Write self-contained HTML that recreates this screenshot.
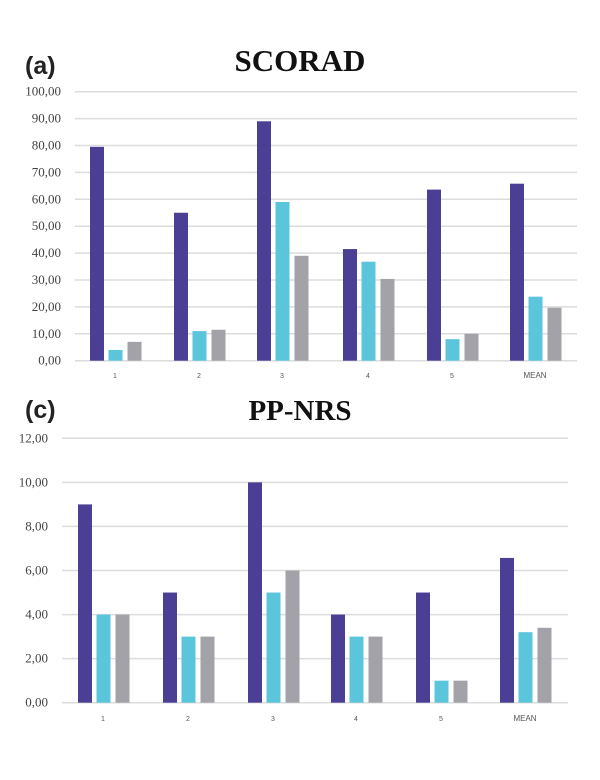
<!DOCTYPE html>
<html><head><meta charset="utf-8"><style>html,body{margin:0;padding:0;background:#fff}svg{display:block}</style></head>
<body>
<svg width="600" height="780" viewBox="0 0 600 780" xmlns="http://www.w3.org/2000/svg">
<rect width="600" height="780" fill="#fff"/>
<text x="25" y="74" font-family="Liberation Sans, sans-serif" font-weight="bold" font-size="25" fill="#222">(a)</text>
<text x="300" y="71" text-anchor="middle" font-family="Liberation Serif, serif" font-weight="bold" font-size="31" fill="#111">SCORAD</text>
<text x="25" y="418" font-family="Liberation Sans, sans-serif" font-weight="bold" font-size="25" fill="#222">(c)</text>
<text x="300" y="420" text-anchor="middle" font-family="Liberation Serif, serif" font-weight="bold" font-size="29" fill="#111">PP-NRS</text>
<g id="top" font-family="Liberation Serif, serif" font-size="13" fill="#444" text-anchor="end"></g>
<g id="bot" font-family="Liberation Serif, serif" font-size="13" fill="#444" text-anchor="end"></g>
<script>
var NS="http://www.w3.org/2000/svg";
function el(p,t,a,txt){var e=document.createElementNS(NS,t);for(var k in a)e.setAttribute(k,a[k]);if(txt!=null)e.textContent=txt;p.appendChild(e);return e;}
function chart(id,y0,yTop,maxV,step,xL,xR,labR,starts,data,labY){
 var g=document.getElementById(id);var n=maxV/step;var ppu=(y0-yTop)/maxV;
 for(var i=0;i<=n;i++){var v=i*step;var y=y0-v*ppu;
  el(g,'line',{x1:xL,x2:xR,y1:y,y2:y,stroke:'#dcdcdc','stroke-width':1.5});
  el(g,'text',{x:labR,y:y+4},v.toFixed(2).replace('.',','));}
 var cols=['#4a3f94','#5bc5dc','#a3a2a8'],off=[0,18.5,37.5];
 var labs=['1','2','3','4','5','MEAN'];
 for(var j=0;j<6;j++){for(var k=0;k<3;k++){var h=data[j][k]*ppu;
  el(g,'rect',{x:starts[j]+off[k],y:y0-h,width:14,height:h,fill:cols[k]});}
  el(g,'text',{x:starts[j]+25,y:labY,'text-anchor':'middle','font-size':(j==5?8:7),'font-family':'Liberation Sans, sans-serif',fill:'#555'},labs[j]);}
}
chart('top',360.7,91.7,100,10,75,577,61,[90,174,257,343,427,510],
 [[79.5,4,7],[55,11,11.5],[89,59,39],[41.5,36.8,30.4],[63.6,8,10],[65.8,23.8,19.7]],378);
chart('bot',702.7,438.3,12,2,62,568,48,[78,163,248,331,416,500],
 [[9,4,4],[5,3,3],[10,5,6],[4,3,3],[5,1,1],[6.57,3.2,3.4]],721);
</script>
</svg>
</body></html>
